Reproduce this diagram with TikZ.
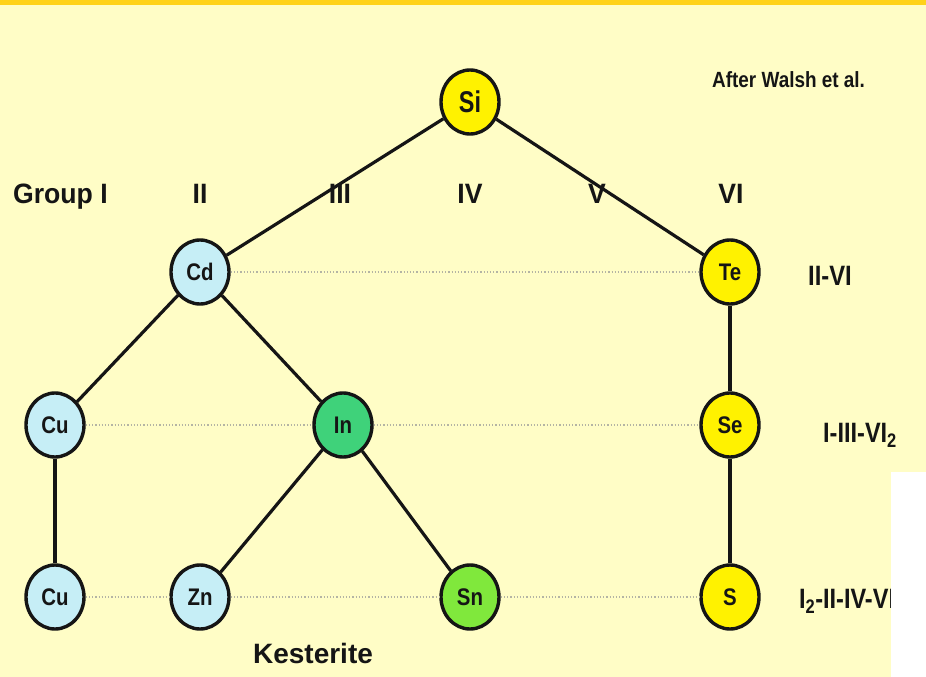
\documentclass[tikz,border=0pt]{standalone}
\usepackage{fontspec}
\setmainfont{Liberation Sans}
\usetikzlibrary{shapes.geometric}
\definecolor{bgyellow}{HTML}{FFFDC6}
\definecolor{topbar}{HTML}{FFD21A}
\definecolor{elemyellow}{HTML}{FFF200}
\definecolor{elemcyan}{HTML}{C6EEF6}
\definecolor{elemgreen}{HTML}{3FD27A}
\definecolor{elemlime}{HTML}{80E83C}
\definecolor{ink}{HTML}{151515}
\definecolor{dotgray}{HTML}{B4B4A4}
\newcommand{\narrow}[2]{\scalebox{#1}[1]{#2}}
\newcommand{\sub}[1]{\textsubscript{\bfseries#1}}
\begin{document}
\begin{tikzpicture}[x=1pt,y=-1pt,
  elem/.style={ellipse,draw=ink,line width=3.4pt,minimum width=58pt,minimum height=64pt,
    inner sep=0pt,font=\bfseries\fontsize{24}{24}\selectfont,text=ink},
  bond/.style={draw=ink,line width=3.2pt},
  tie/.style={draw=dotgray,line width=1.2pt,dotted},
  lbl/.style={font=\bfseries\fontsize{28}{28}\selectfont,text=ink,inner sep=0pt,anchor=base}
]
\useasboundingbox (0,0) rectangle (926,677);
\fill[bgyellow] (0,0) rectangle (926,677);
\fill[topbar] (0,0) rectangle (926,5);

% element nodes
\node[elem,fill=elemyellow,font=\bfseries\fontsize{30}{30}\selectfont] (si) at (470,102) {\narrow{0.78}{Si}};
\node[elem,fill=elemcyan]   (cd)  at (200,272) {\narrow{0.85}{Cd}};
\node[elem,fill=elemyellow] (te)  at (730,272) {\narrow{0.85}{Te}};
\node[elem,fill=elemcyan]   (cu1) at (55,425)  {\narrow{0.85}{Cu}};
\node[elem,fill=elemgreen]  (in)  at (343,425) {\narrow{0.85}{In}};
\node[elem,fill=elemyellow] (se)  at (730,425) {\narrow{0.85}{Se}};
\node[elem,fill=elemcyan]   (cu2) at (55,597)  {\narrow{0.85}{Cu}};
\node[elem,fill=elemcyan]   (zn)  at (200,597) {\narrow{0.85}{Zn}};
\node[elem,fill=elemlime]   (sn)  at (470,597) {\narrow{0.85}{Sn}};
\node[elem,fill=elemyellow] (s)   at (730,597) {\narrow{0.85}{S}};

% family tree bonds
\draw[bond] (si) -- (cd);
\draw[bond] (si) -- (te);
\draw[bond] (cd) -- (cu1);
\draw[bond] (cd) -- (in);
\draw[bond] (cu1) -- (cu2);
\draw[bond] (in) -- (zn);
\draw[bond] (in) -- (sn);
\draw[bond] (te) -- (se);
\draw[bond] (se) -- (s);

% dotted ties within a compound row
\draw[tie] (cd) -- (te);
\draw[tie] (cu1) -- (in);
\draw[tie] (in) -- (se);
\draw[tie] (cu2) -- (zn);
\draw[tie] (zn) -- (sn);
\draw[tie] (sn) -- (s);

% group headings
\node[lbl,anchor=base west] (g1) at (13,203) {\narrow{0.95}{Group I}};
\node[lbl] (g2) at (200,203) {\narrow{0.95}{II}};
\node[lbl] (g3) at (340,203) {\narrow{0.95}{III}};
\node[lbl] (g4) at (470,203) {\narrow{0.95}{IV}};
\node[lbl] (g5) at (597,203) {\narrow{0.95}{V}};
\node[lbl] (g6) at (731,203) {\narrow{0.95}{VI}};

% compound families
\node[lbl,anchor=base west] (f1) at (808,285) {\narrow{0.85}{II-VI}};
\node[lbl,anchor=base west] (f2) at (823,442) {\narrow{0.84}{I-III-VI\sub{2}}};
\node[lbl,anchor=base west] (f3) at (799,608) {\narrow{0.84}{I\sub{2}-II-IV-VI\sub{4}}};

\node[lbl] (kes) at (313,663) {Kesterite};
\node[lbl,anchor=base west,font=\bfseries\fontsize{22}{22}\selectfont] (ref) at (712,88) {\narrow{0.86}{After Walsh et al.}};

% white panel over the lower right corner
\fill[white] (891,472) rectangle (926,677);
\end{tikzpicture}
\end{document}
